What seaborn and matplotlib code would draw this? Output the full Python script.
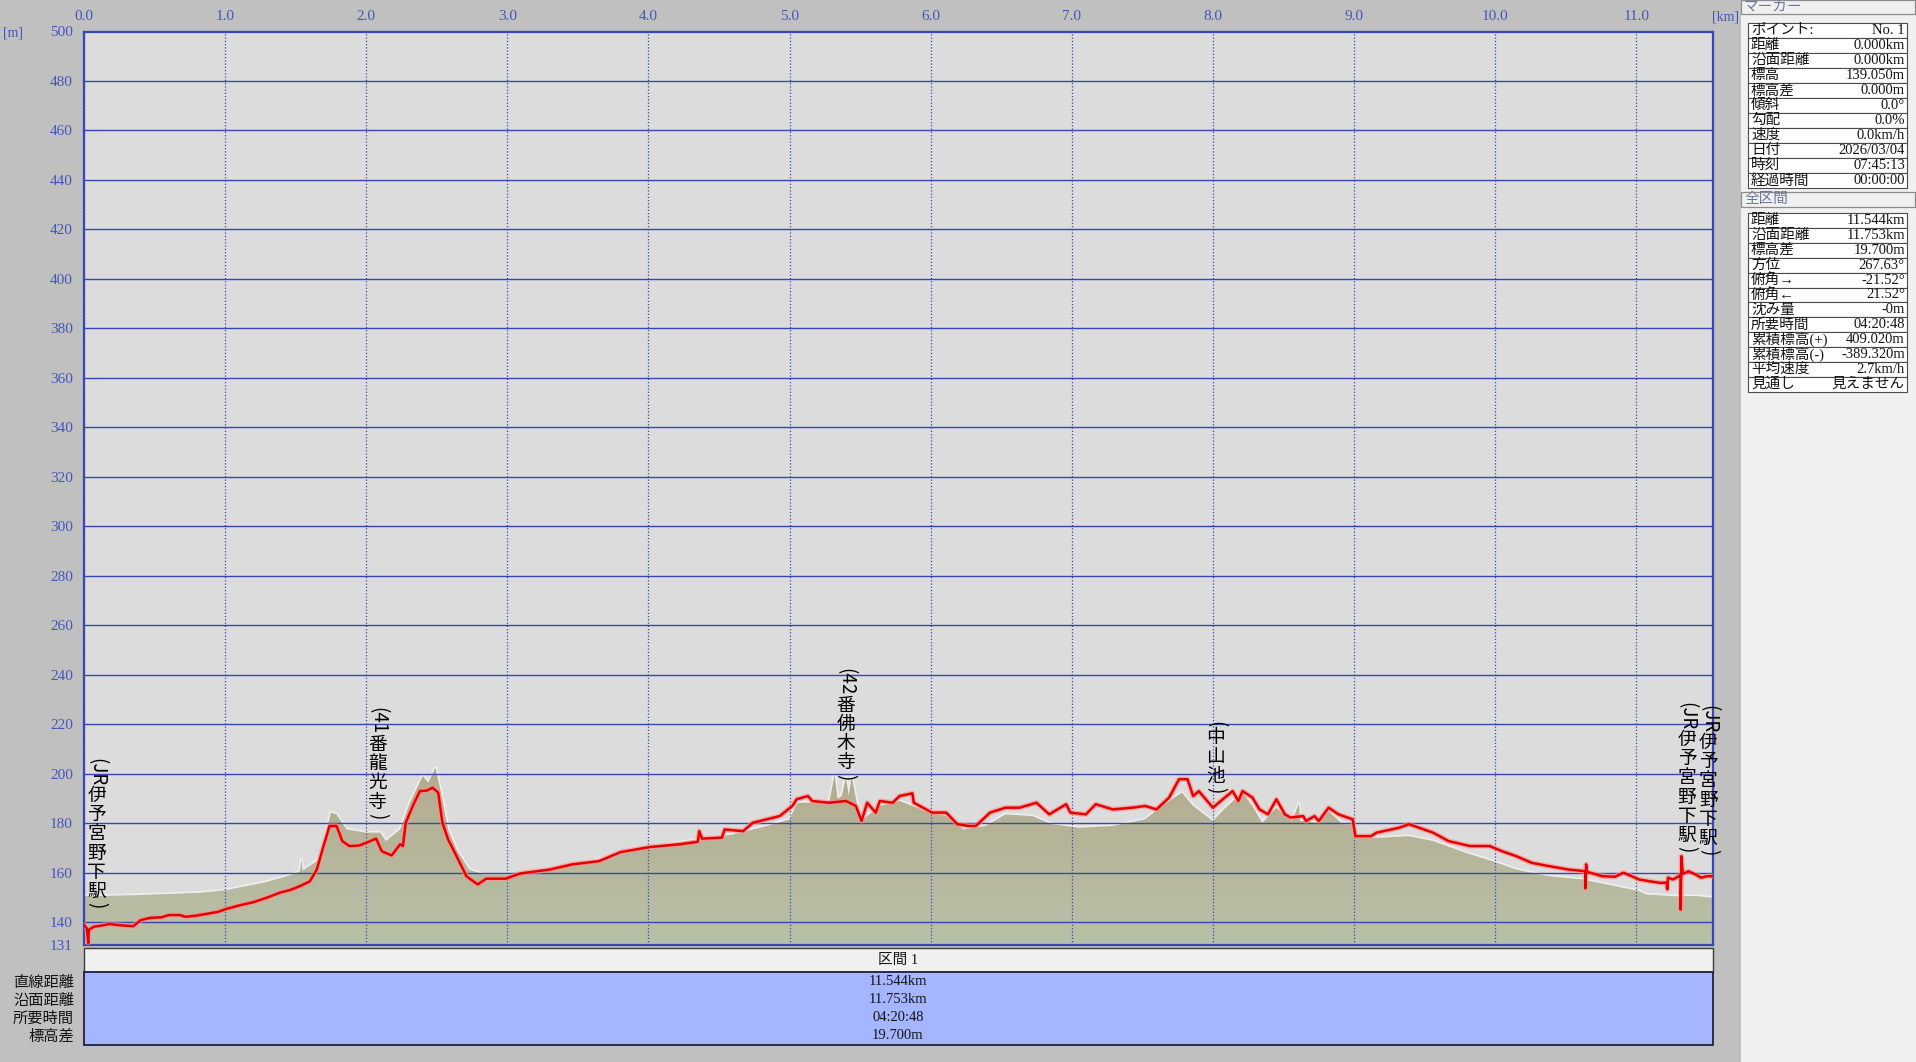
#!/usr/bin/env python3
"""Elevation profile of the Iyo-Miyanoshita walk (track vs. terrain)."""

import re

import matplotlib

matplotlib.use("Agg")
import matplotlib.pyplot as plt
import numpy as np
import pandas as pd
import seaborn as sns
from matplotlib.colors import LinearSegmentedColormap
from matplotlib.patches import Rectangle


# GPS track elevation (km along route, m)
TRACK_KM = [
    0.00, 0.02, 0.03, 0.035, 0.07, 0.12, 0.18, 0.25, 0.35, 0.40, 0.47, 0.55, 0.60, 0.68,
    0.72, 0.80, 0.91, 0.95, 1.01, 1.10, 1.20, 1.30, 1.39, 1.46, 1.53, 1.60, 1.65, 1.69,
    1.74, 1.79, 1.83, 1.88, 1.95, 2.00, 2.07, 2.11, 2.18, 2.24, 2.26, 2.28, 2.33, 2.38,
    2.43, 2.47, 2.51, 2.54, 2.58, 2.64, 2.71, 2.76, 2.79, 2.85, 2.99, 3.09, 3.30, 3.46,
    3.65, 3.80, 4.01, 4.22, 4.35, 4.36, 4.38, 4.52, 4.54, 4.67, 4.74, 4.84, 4.93, 5.02,
    5.05, 5.13, 5.16, 5.28, 5.40, 5.47, 5.51, 5.55, 5.61, 5.64, 5.73, 5.78, 5.87, 5.88,
    6.01, 6.11, 6.19, 6.27, 6.32, 6.42, 6.53, 6.63, 6.75, 6.84, 6.96, 6.99, 7.10, 7.17,
    7.29, 7.43, 7.52, 7.60, 7.69, 7.76, 7.82, 7.86, 7.90, 8.00, 8.07, 8.14, 8.18, 8.21,
    8.28, 8.33, 8.39, 8.45, 8.51, 8.55, 8.64, 8.66, 8.72, 8.75, 8.82, 8.89, 8.99, 9.01,
    9.12, 9.16, 9.32, 9.39, 9.46, 9.56, 9.67, 9.82, 9.96, 10.05, 10.15, 10.26, 10.38,
    10.52, 10.64, 10.64, 10.645, 10.65, 10.76, 10.85, 10.91, 11.02, 11.09, 11.17, 11.215,
    11.22, 11.225, 11.26, 11.30, 11.315, 11.315, 11.32, 11.33, 11.37, 11.42, 11.46, 11.50,
    11.544,
]
TRACK_ELEV = [
    139.0, 137.5, 131.5, 137.0, 138.2, 138.6, 139.3, 138.8, 138.4, 140.8, 141.8, 142.0,
    142.9, 142.9, 142.2, 142.7, 143.8, 144.2, 145.4, 146.8, 148.1, 150.0, 152.0, 153.0,
    154.6, 156.5, 161.3, 169.4, 178.9, 178.9, 172.8, 170.8, 171.0, 172.1, 173.8, 168.7,
    167.0, 171.5, 170.8, 180.2, 187.0, 193.0, 193.2, 194.4, 192.4, 180.2, 173.5, 166.7,
    158.6, 156.5, 155.3, 157.6, 157.6, 159.7, 161.3, 163.4, 164.7, 168.3, 170.4, 171.5,
    172.5, 176.8, 173.8, 174.2, 177.5, 176.8, 180.2, 181.6, 182.9, 187.0, 189.7, 191.0,
    189.0, 188.3, 189.0, 187.0, 180.9, 188.3, 184.3, 189.0, 188.3, 191.0, 192.1, 188.3,
    184.3, 184.3, 179.6, 178.9, 178.9, 184.3, 186.3, 186.3, 188.3, 183.6, 187.7, 184.3,
    183.6, 187.7, 185.6, 186.3, 187.0, 185.6, 190.4, 197.8, 197.8, 191.0, 193.0, 186.3,
    189.7, 193.0, 189.0, 193.0, 190.4, 185.6, 183.6, 189.7, 183.6, 182.3, 182.9, 180.9,
    182.9, 180.9, 186.3, 183.6, 181.6, 174.8, 174.8, 176.2, 178.2, 179.6, 178.2, 176.2,
    172.8, 170.8, 170.8, 168.7, 166.7, 164.0, 162.7, 161.3, 160.6, 153.7, 163.4, 160.4,
    158.6, 158.4, 160.0, 157.3, 156.6, 155.9, 156.0, 153.3, 158.0, 157.3, 158.5, 159.3,
    145.1, 166.7, 159.5, 160.6, 159.3, 158.0, 158.6, 158.6,
]

# DEM terrain profile along the same route
TERRAIN_KM = [
    0.00, 0.35, 0.82, 1.01, 1.29, 1.48, 1.53, 1.54, 1.55, 1.65, 1.69, 1.72, 1.75, 1.79,
    1.86, 2.00, 2.10, 2.14, 2.24, 2.31, 2.40, 2.44, 2.49, 2.53, 2.58, 2.64, 2.73, 2.83,
    3.06, 3.42, 3.65, 3.89, 4.13, 4.36, 4.60, 4.84, 5.00, 5.05, 5.07, 5.28, 5.32, 5.34,
    5.37, 5.40, 5.42, 5.44, 5.48, 5.52, 5.64, 5.78, 5.87, 5.99, 6.11, 6.23, 6.39, 6.53,
    6.72, 6.86, 7.05, 7.29, 7.52, 7.64, 7.78, 7.86, 8.00, 8.09, 8.21, 8.28, 8.35, 8.45,
    8.56, 8.61, 8.62, 8.73, 8.82, 8.92, 8.99, 9.01, 9.20, 9.39, 9.56, 9.79, 9.98, 10.15,
    10.38, 10.62, 10.85, 11.02, 11.07, 11.28, 11.42, 11.544,
]
TERRAIN_ELEV = [
    150.5, 150.9, 151.9, 153.0, 156.2, 159.3, 160.6, 165.4, 161.0, 164.7, 168.1, 177.5,
    184.3, 183.6, 177.5, 176.2, 176.2, 172.8, 177.5, 188.3, 199.1, 196.4, 202.5, 192.4,
    177.5, 169.4, 161.3, 159.3, 159.3, 162.7, 165.4, 168.7, 171.5, 173.5, 175.5, 178.9,
    181.6, 187.7, 188.3, 188.3, 199.8, 190.0, 191.0, 198.5, 191.0, 199.1, 187.0, 181.6,
    187.0, 189.0, 187.0, 184.3, 182.9, 177.5, 178.9, 183.6, 182.9, 179.6, 178.2, 178.9,
    181.6, 187.0, 192.4, 187.0, 180.9, 186.3, 192.4, 187.0, 180.2, 186.3, 180.9, 188.0,
    181.0, 180.2, 184.9, 179.6, 179.6, 174.2, 174.2, 174.8, 172.8, 168.1, 164.7, 161.3,
    158.6, 157.3, 154.6, 152.6, 151.2, 150.5, 150.6, 149.9,
]

WAYPOINT_NAMES = [
    "(JR伊予宮野下駅)", "(41番龍光寺)", "(42番佛木寺)", "(中山池)",
    "(JR伊予宮野下駅)", "(JR伊予宮野下駅)",
]
WAYPOINT_KM = [0.09, 2.08, 5.40, 8.02, 11.36, 11.51]
WAYPOINT_LABEL_TOP = [206.4, 227.0, 242.8, 221.8, 229.0, 227.8]

TOTAL_KM = 11.544
Y_MIN, Y_MAX = 131, 500
Y_TICKS = [131] + list(range(140, 501, 20))
X_TICKS = list(range(0, 12))

MARKER_LABELS = ["ポイント:", "距離", "沿面距離", "標高", "標高差", "傾斜", "勾配",
                 "速度", "日付", "時刻", "経過時間"]
MARKER_VALUES = ["No. 1", "0.000km", "0.000km", "139.050m", "0.000m", "0.0°", "0.0%",
                 "0.0km/h", "2026/03/04", "07:45:13", "00:00:00"]
TOTAL_LABELS = ["距離", "沿面距離", "標高差", "方位", "俯角→", "俯角←", "沈み量",
                "所要時間", "累積標高(+)", "累積標高(-)", "平均速度", "見通し"]
TOTAL_VALUES = ["11.544km", "11.753km", "19.700m", "267.63°", "-21.52°", "21.52°", "-0m",
                "04:20:48", "409.020m", "-389.320m", "2.7km/h", "見えません"]
SECTION_TITLE = "区間 1"
SECTION_LABELS = ["直線距離", "沿面距離", "所要時間", "標高差"]
SECTION_VALUES = ["11.544km", "11.753km", "04:20:48", "19.700m"]

W, H = 1916, 1062
FONT = ["Liberation Serif", "Noto Sans CJK JP", "DejaVu Sans"]
CJK = ["Noto Sans CJK JP", "DejaVu Sans"]
AXIS_BLUE = "#3646b4"
TICK_BLUE = "#4656b8"
INK = "#141414"


def draw_vertical_label(ax, x, top, text, size=13.5):
    # tategaki: kanji upright, latin runs and brackets turned 90° clockwise
    offset = 0.0
    for seg in re.findall(r"[A-Za-z0-9()]+|.", text):
        upright = re.match(r"[A-Za-z0-9()]", seg) is None
        if upright:
            adv = size * 1.02
        elif seg in "()":
            adv = size * 0.45
        else:
            adv = size * 0.5 * len(seg)
        ax.annotate(
            seg, xy=(x, top), xytext=(0, -(offset + adv / 2)), textcoords="offset points",
            ha="center", va="center", rotation=0 if upright else -90,
            fontsize=size, family=CJK, color="black", zorder=6,
        )
        offset += adv


def draw_table(ax, top, row_h, labels, values, left=1748, right=1907):
    for i, (lab, val) in enumerate(zip(labels, values)):
        y0 = top + i * row_h
        ax.add_patch(Rectangle((left, y0), right - left, row_h, facecolor="white",
                               edgecolor="#4a4a4a", linewidth=0.8))
        ax.text(left + 3, y0 + row_h / 2, lab, ha="left", va="center",
                fontsize=10.5, family=FONT, color=INK)
        ax.text(right - 2, y0 + row_h / 2, val, ha="right", va="center",
                fontsize=10.5, family=FONT, color=INK)


def draw_header(ax, top, title, height=14):
    ax.add_patch(Rectangle((1741, top), W - 1742, height, facecolor="#f0f0f0",
                           edgecolor="#8c8c8c", linewidth=0.9))
    ax.text(1744, top + height / 2, title, ha="left", va="center",
            fontsize=10.5, family=FONT, color="#6a78a0")


def main():
    sns.set_theme(style="white")
    plt.rcParams["font.family"] = FONT
    plt.rcParams["axes.unicode_minus"] = False

    track = pd.DataFrame({"km": TRACK_KM, "elev": TRACK_ELEV})
    terrain = pd.DataFrame({"km": TERRAIN_KM, "elev": TERRAIN_ELEV})

    fig = plt.figure(figsize=(W / 100, H / 100), dpi=100, facecolor="#c0c0c0")

    # ---- window chrome in pixel coordinates ----
    ui = fig.add_axes([0, 0, 1, 1])
    ui.set_xlim(0, W)
    ui.set_ylim(H, 0)
    ui.axis("off")
    ui.add_patch(Rectangle((1741, 0), W - 1741, H, facecolor="#f0f0f0", edgecolor="none"))
    draw_header(ui, 0, "マーカー")
    draw_table(ui, 23, 15.0, MARKER_LABELS, MARKER_VALUES)
    draw_header(ui, 192, "全区間", height=15)
    draw_table(ui, 213, 14.9, TOTAL_LABELS, TOTAL_VALUES)

    ui.add_patch(Rectangle((84, 948), 1629, 24, facecolor="#f0f0f0",
                           edgecolor="#3c3c3c", linewidth=1.0))
    ui.text(898, 960, SECTION_TITLE, ha="center", va="center", fontsize=10.5,
            family=FONT, color=INK)
    ui.add_patch(Rectangle((84, 972), 1629, 73, facecolor="#a5b5ff",
                           edgecolor="#1e2040", linewidth=1.3))
    for i, (lab, val) in enumerate(zip(SECTION_LABELS, SECTION_VALUES)):
        ui.text(898, 981.5 + i * 18, val, ha="center", va="center", fontsize=10.5,
                family=FONT, color=INK)
        ui.text(74, 982.5 + i * 18, lab, ha="right", va="center", fontsize=11,
                family=FONT, color=INK)
    ui.text(1739, 17, "[km]", ha="right", va="center", fontsize=10, family=FONT,
            color=TICK_BLUE)
    ui.text(3, 33, "[m]", ha="left", va="center", fontsize=10, family=FONT,
            color=TICK_BLUE)

    # ---- profile plot ----
    top_px, bot_px = 31.5, 944.5
    ax = fig.add_axes([84 / W, 1 - bot_px / H, (1713 - 84) / W, (bot_px - top_px) / H])
    ax.set_facecolor("#dcdcdc")

    # terrain: vertical colour gradient clipped to the DEM profile
    ax.plot(terrain["km"], terrain["elev"], color="#efefef", linewidth=2.4, zorder=1)
    cmap = LinearSegmentedColormap.from_list("terrain", ["#b8c1a9", "#b4aa8c"])
    grad = np.linspace(0, 1, 256).reshape(-1, 1)
    im = ax.imshow(grad, extent=(0, TOTAL_KM, Y_MIN, terrain["elev"].max() + 3),
                   origin="lower", aspect="auto", cmap=cmap, zorder=2)
    poly = ax.fill_between(terrain["km"], terrain["elev"], Y_MIN,
                           facecolor="none", edgecolor="none")
    im.set_clip_path(poly.get_paths()[0], transform=ax.transData)

    # track with a faint glow
    sns.lineplot(data=track, x="km", y="elev", sort=False, estimator=None, ax=ax,
                 color="#ff8c8c", linewidth=3.8, alpha=0.6, zorder=4)
    sns.lineplot(data=track, x="km", y="elev", sort=False, estimator=None, ax=ax,
                 color="#e80000", linewidth=1.8, zorder=5)

    for name, km, top in zip(WAYPOINT_NAMES, WAYPOINT_KM, WAYPOINT_LABEL_TOP):
        draw_vertical_label(ax, km, top, name)

    ax.set_xlim(0, TOTAL_KM)
    ax.set_ylim(Y_MIN, Y_MAX)
    ax.set_xlabel("")
    ax.set_ylabel("")
    ax.xaxis.tick_top()
    ax.set_xticks(X_TICKS, [f"{v:.1f}" for v in X_TICKS])
    ax.set_yticks(Y_TICKS, [str(v) for v in Y_TICKS])
    ax.tick_params(axis="both", length=0, colors=TICK_BLUE, labelsize=11)
    ax.tick_params(axis="y", pad=8)
    ax.tick_params(axis="x", pad=6)
    for lab in ax.get_xticklabels() + ax.get_yticklabels():
        lab.set_family(FONT)

    ax.grid(False)
    ax.yaxis.grid(True, color=AXIS_BLUE, linewidth=1.0, zorder=3)
    ax.xaxis.grid(True, color=AXIS_BLUE, linewidth=0.9, linestyle=(0, (1, 1.6)), zorder=3)
    ax.set_axisbelow(False)
    ax.yaxis.get_gridlines()[0].set_visible(False)
    ax.yaxis.get_gridlines()[-1].set_visible(False)
    for spine in ax.spines.values():
        spine.set_color(AXIS_BLUE)
        spine.set_linewidth(1.6)

    fig.savefig("out.png", dpi=100, facecolor=fig.get_facecolor())
    plt.close(fig)


if __name__ == "__main__":
    main()
